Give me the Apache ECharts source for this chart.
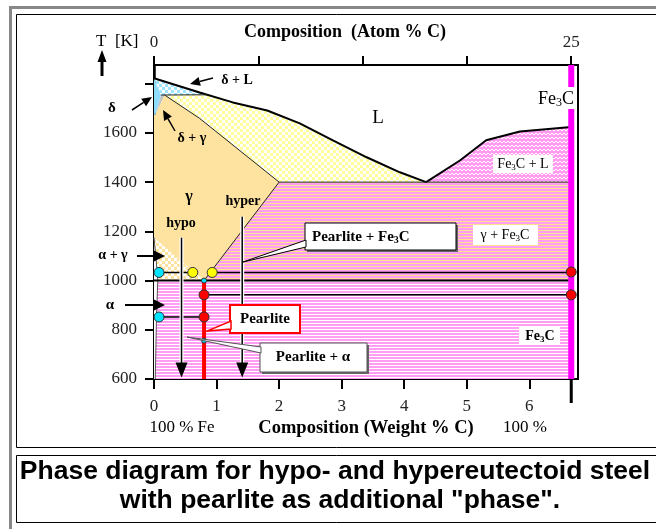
<!DOCTYPE html>
<html><head><meta charset="utf-8">
<script src="https://cdn.jsdelivr.net/npm/echarts@6/dist/echarts.min.js"></script>
<style>html,body{margin:0;padding:0;background:#fff}#c{width:656px;height:529px}</style>
</head><body><div id="c"></div>
<script>
// ---------- data (wt% C, temperature K) ----------
const xTicks = [0,1,2,3,4,5,6];
const atomTicks = [0,6.25,12.5,18.75,25];
const atomLabels = [0,25];
const yTicks = [600,800,1000,1200,1400,1600,1800];
const yLabels = [600,800,1000,1200,1400,1600];

const liquidus = [[0,1822],[0.73,1764],[1.26,1724],[1.81,1691],[2.33,1639],[2.86,1570],[3.40,1501],[3.93,1440],[4.35,1400]];
const cementiteLiquidus = [[4.35,1400],[4.89,1488],[5.31,1570],[5.85,1606],[6.67,1624]];
const solidus = [[0.17,1754],[0.73,1659],[2.0,1400]];
const acm = [[2.0,1400],[0.8,1000]];
const alphaSolvus = [[0,1174],[0.05,1040],[0.06,1000],[0.04,850],[0.02,600]];
const peritectic = [[0.11,1754],[0.85,1755]];
const eutectic = [[2.0,1400],[6.67,1400]];
const eutectoid = [[0,1000],[6.67,1000]];

const regAlphaFe3C = [[0,1000],[6.67,1000],[6.67,600],[0,600]];
const regGammaFe3C = [[0.8,1000],[2.0,1400],[6.67,1400],[6.67,1000]];
const regFe3CL = [[4.35,1400],[4.89,1488],[5.31,1570],[5.85,1606],[6.67,1624],[6.67,1400]];
const regGammaL = [[0.17,1754],[0.85,1755],[1.26,1724],[1.81,1691],[2.33,1639],[2.86,1570],[3.40,1501],[3.93,1440],[4.35,1400],[2.0,1400],[0.73,1659]];
const regGamma = [[0,1674],[0.02,1674],[0.17,1754],[0.73,1659],[2.0,1400],[0.8,1000],[0,1174]];
const regAlphaGamma = [[0,1174],[0.8,1000],[0.06,1000],[0.05,1040]];
const regAlpha = [[0,1174],[0.05,1040],[0.06,1000],[0.04,850],[0.02,600],[0,600]];
const regDeltaL = [[0,1822],[0.85,1755],[0.11,1754]];
const regDeltaGamma = [[0.11,1754],[0.17,1754],[0.02,1674]];
const regDelta = [[0,1822],[0.11,1754],[0.02,1674],[0,1674]];

const fe3cLine = [[6.67,600],[6.67,1876]];
const pearliteLine = [[0.8,1000],[0.8,600]];
const tie1033a = [[0.08,1033],[0.62,1033]];
const tie1033b = [[0.93,1033],[6.67,1033]];
const tie942 = [[0.8,942],[6.67,942]];
const tie852 = [[0.08,852],[0.8,852]];

const cyanDots = [[0.08,1033],[0.08,852]];
const yellowDots = [[0.62,1033],[0.93,1033]];
const redDots = [[0.8,942],[0.8,852],[6.67,1035],[6.67,942]];
const smallCyanDots = [[0.8,1000],[0.8,756]];
const coolingArrows = [[0.44,1174,606],[1.41,1259,606]]; // x, T start, T end

// ---------- patterns ----------
function tile(w,h,fn){const c=document.createElement('canvas');c.width=w;c.height=h;const g=c.getContext('2d');fn(g);return {image:c,repeat:'repeat'};}
const PINK='#ff9ef2', YEL='#ffe38c', GAM='#fde2a0';
const pPinkWhite = tile(1,3,g=>{g.fillStyle='#fff';g.fillRect(0,0,1,3);g.fillStyle=PINK;g.fillRect(0,0,1,2);});
const pPinkYel = tile(1,3,g=>{g.fillStyle=YEL;g.fillRect(0,0,1,3);g.fillStyle=PINK;g.fillRect(0,0,1,2);});
const pYelCheck = tile(6,6,g=>{g.fillStyle='#ffff9c';g.fillRect(0,0,6,6);g.fillStyle='#fff';g.fillRect(0,0,3,3);g.fillRect(3,3,3,3);});
const pGamCheck = tile(6,6,g=>{g.fillStyle=GAM;g.fillRect(0,0,6,6);g.fillStyle='#fff';g.fillRect(0,0,3,3);g.fillRect(3,3,3,3);});
const pBlueCheck = tile(6,6,g=>{g.fillStyle='#9fe4ff';g.fillRect(0,0,6,6);g.fillStyle='#fff';g.fillRect(0,0,3,3);g.fillRect(3,3,3,3);});
const pWavy = tile(8,4,g=>{g.fillStyle='#ff9cf0';g.fillRect(0,0,8,4);g.fillStyle='#fff';[[0,0],[1,1],[2,1],[3,0],[4,0],[5,1],[6,1],[7,0]].forEach(p=>g.fillRect(p[0],p[1]+1,1,1));});

function regionSeries(points, fill, z){
  return {type:'custom', silent:true, clip:true, z:z||1, data:[points[0]],
    renderItem:(params, api)=>({type:'polygon', shape:{points:points.map(p=>api.coord(p))}, style:{fill:fill, stroke:null}})};
}
function lineSeries(data, color, width, z){
  return {type:'line', data:data, silent:true, showSymbol:false, symbol:'none', z:z||3,
    lineStyle:{color:color, width:width}, animation:false};
}
function dotSeries(data, color, size){
  return {type:'scatter', data:data, silent:true, symbolSize:size, z:6,
    itemStyle:{color:color, borderColor:'#333', borderWidth:1, opacity:1}};
}

const chart = echarts.init(document.getElementById('c'), null, {renderer:'canvas'});
const serif = 'Liberation Serif';
const T = (x,y,text,opt)=>Object.assign({type:'text', x:x, y:y, z:100, style:Object.assign({text:text, font:'bold 14px '+serif, fill:'#000', align:'center', verticalAlign:'middle'}, opt||{})});
const richFe = (size,color,weight)=>({a:{fontSize:size,fontFamily:serif,fontWeight:weight,color:color,lineHeight:size+2}, s:{fontSize:Math.round(size*0.65),fontFamily:serif,fontWeight:weight,color:color,verticalAlign:'bottom',lineHeight:size+2}});
function box(x,y,w,h,stroke,lw,shadow){
  const arr=[];
  if(shadow) arr.push({type:'rect', z:99, shape:{x:x+2,y:y+2,width:w,height:h}, style:{fill:'#666'}});
  arr.push({type:'rect', z:99, shape:{x:x,y:y,width:w,height:h}, style:{fill:'#fff', stroke:stroke, lineWidth:lw}});
  return arr;
}
function arrow(x1,y1,x2,y2,hl,hw,lw){
  const a=Math.atan2(y2-y1,x2-x1), bx=x2-hl*Math.cos(a), by=y2-hl*Math.sin(a);
  const px=Math.sin(a)*hw/2, py=-Math.cos(a)*hw/2;
  return [{type:'line', z:100, shape:{x1:x1,y1:y1,x2:bx,y2:by}, style:{stroke:'#000', lineWidth:lw||2}},
          {type:'polygon', z:100, shape:{points:[[x2,y2],[bx+px,by+py],[bx-px,by-py]]}, style:{fill:'#000'}}];
}

const graphics = [].concat(
  [{type:'rect', z:0, shape:{x:9,y:6,width:700,height:3}, style:{fill:'#888'}},
   {type:'rect', z:0, shape:{x:9,y:6,width:3,height:530}, style:{fill:'#888'}},
   {type:'rect', z:0, shape:{x:16.5,y:14.5,width:700,height:433}, style:{fill:null, stroke:'#000', lineWidth:1}},
   {type:'rect', z:0, shape:{x:16.5,y:455.5,width:700,height:67}, style:{fill:null, stroke:'#000', lineWidth:1}}],
  [T(345,32,'Composition  (Atom % C)',{font:'bold 18px '+serif}),
   T(96,42,'T  [K]',{font:'17px '+serif, align:'left'})],
  arrow(102,76,102,50,12,9,3),
  [T(112,108,'δ',{font:'bold 15px '+serif})],
  arrow(132,110,152,97,10,9,1.5),
  [T(237,80,'δ + L',{font:'bold 14px '+serif})],
  arrow(213,78,190,84,10,9,1.5),
  [T(192,138,'δ + γ',{font:'bold 14px '+serif})],
  arrow(175,131,163,110,10,9,1.5),
  [T(113,255,'α + γ',{font:'bold 14px '+serif})],
  arrow(137,256,165,256,12,12,2),
  [T(110,305,'α',{font:'bold 15px '+serif})],
  arrow(125,305,165,305,12,12,2),
  [T(378,118,'L',{font:'19px '+serif}),
   {type:'text', z:100, x:575, y:98, style:{text:'{a|Fe}{s|3}{a|C}', rich:richFe(18,'#000','normal'), align:'right', verticalAlign:'middle', backgroundColor:'#fff', padding:[2,1,0,2]}},
   T(189,197,'γ',{font:'bold 16px '+serif}),
   T(181,223,'hypo',{font:'bold 14px '+serif}),
   T(243,201,'hyper',{font:'bold 14px '+serif})],
  box(493,155,60,18,null,0,false),
  [{type:'text', z:100, x:523, y:164, style:{text:'{a|Fe}{s|3}{a|C + L}', rich:richFe(14,'#000','normal'), align:'center', verticalAlign:'middle'}}],
  box(473,225,65,20,null,0,false),
  [{type:'text', z:100, x:505, y:235, style:{text:'{a|γ + Fe}{s|3}{a|C}', rich:richFe(14,'#000','normal'), align:'center', verticalAlign:'middle'}}],
  box(519,326,41,19,null,0,false),
  [{type:'text', z:100, x:540, y:336, style:{text:'{a|Fe}{s|3}{a|C}', rich:richFe(14,'#ff0000','bold'), align:'center', verticalAlign:'middle'}}],
  // Pearlite + Fe3C callout
  box(305,223,151,27,'#000',1,true),
  [{type:'polygon', z:101, shape:{points:[[306,240],[306,247],[243,262]]}, style:{fill:'#fff', stroke:'#000', lineWidth:1}},
   {type:'text', z:102, x:312, y:237, style:{text:'{a|Pearlite + Fe}{s|3}{a|C}', rich:richFe(15,'#000','bold'), align:'left', verticalAlign:'middle'}}],
  // Pearlite callout
  box(230,305,70,28,'#ff0000',2,false),
  [{type:'polygon', z:101, shape:{points:[[231,321],[231,329],[207,331]]}, style:{fill:'#fff', stroke:'#ff0000', lineWidth:1.5}},
   T(265,319,'Pearlite',{font:'bold 15px '+serif})],
  // Pearlite + alpha callout
  box(260,343,107,29,'#555',1,true),
  [{type:'polygon', z:101, shape:{points:[[261,347],[261,353],[187,337]]}, style:{fill:'#fff', stroke:'#555', lineWidth:1}},
   T(313,357,'Pearlite + α',{font:'bold 15px '+serif})],
  // bottom labels
  [T(182,428,'100 % Fe',{font:'17px '+serif}),
   T(366,428,'Composition (Weight % C)',{font:'bold 18.5px '+serif}),
   T(525,428,'100 %',{font:'17px '+serif})],
  // caption
  [T(335,472,'Phase diagram for hypo- and hypereutectoid steel',{font:'bold 26.5px Liberation Sans'}),
   T(340,501,'with pearlite as additional "phase".',{font:'bold 26.5px Liberation Sans'})]
);

const fmt = v => String(v);
const option = {
  animation:false,
  backgroundColor:'#fff',
  grid:{left:154, top:65, right:78, bottom:150, show:true, borderColor:'#000', borderWidth:2, backgroundColor:'transparent'},
  xAxis:[
    {type:'value', min:0, max:6.778, position:'bottom', splitLine:{show:false},
     axisLine:{lineStyle:{color:'#000', width:2}},
     axisTick:{length:10, lineStyle:{color:'#000', width:2}, customValues:xTicks},
     axisLabel:{customValues:xTicks, formatter:fmt, margin:19, color:'#222', fontSize:17, fontFamily:serif}},
    {type:'value', min:0, max:25*6.778/6.67, position:'top', splitLine:{show:false},
     axisLine:{lineStyle:{color:'#000', width:2}},
     axisTick:{length:9, lineStyle:{color:'#000', width:2}, customValues:atomTicks},
     axisLabel:{customValues:atomLabels, formatter:fmt, margin:14, color:'#222', fontSize:17, fontFamily:serif}}
  ],
  yAxis:[{type:'value', min:600, max:1876, splitLine:{show:false},
     axisLine:{lineStyle:{color:'#000', width:2.5}},
     axisTick:{length:9, lineStyle:{color:'#000', width:2}, customValues:yTicks},
     axisLabel:{customValues:yLabels, formatter:fmt, margin:17, color:'#222', fontSize:17, fontFamily:serif}}],
  graphic: graphics,
  series:[
    regionSeries(regAlphaFe3C, pPinkWhite),
    regionSeries(regGammaFe3C, pPinkYel),
    regionSeries(regFe3CL, pWavy),
    regionSeries(regGammaL, pYelCheck),
    regionSeries(regGamma, GAM),
    regionSeries(regAlphaGamma, pGamCheck),
    regionSeries(regAlpha, '#ffffff'),
    regionSeries(regDeltaL, pBlueCheck),
    regionSeries(regDeltaGamma, '#c4c4c4'),
    regionSeries(regDelta, '#8fdcff'),
    lineSeries(liquidus, '#000', 2),
    lineSeries(cementiteLiquidus, '#000', 2),
    lineSeries(solidus, '#222', 1),
    lineSeries(acm, '#222', 1),
    lineSeries(alphaSolvus, '#555', 1),
    lineSeries(peritectic, '#222', 1),
    lineSeries(eutectic, '#222', 1),
    lineSeries(eutectoid, '#000', 2),
    lineSeries(tie1033a, '#000', 1.5),
    lineSeries(tie1033b, '#000', 1.5),
    lineSeries(tie942, '#000', 1.5),
    lineSeries(tie852, '#000', 1.5),
    lineSeries(fe3cLine, '#ff00ff', 6, 4),
    lineSeries(pearliteLine, '#ff0000', 4, 4),
    {type:'custom', silent:true, clip:false, z:5, data:coolingArrows,
     renderItem:(params, api)=>{
       const a=api.coord([api.value(0),api.value(1)]), b=api.coord([api.value(0),api.value(2)]);
       return {type:'group', children:[
         {type:'line', shape:{x1:a[0],y1:a[1],x2:b[0],y2:b[1]-12}, style:{stroke:'#fff', lineWidth:4}},
         {type:'line', shape:{x1:a[0],y1:a[1],x2:b[0],y2:b[1]-12}, style:{stroke:'#000', lineWidth:1.5}},
         {type:'polygon', shape:{points:[[b[0],b[1]],[b[0]-6,b[1]-15],[b[0]+6,b[1]-15]]}, style:{fill:'#000'}}
       ]};
     }},
    {type:'custom', silent:true, clip:false, z:5, data:[[6.67,600]],
     renderItem:(params, api)=>{const p=api.coord([api.value(0),api.value(1)]);
       return {type:'line', shape:{x1:p[0],y1:p[1],x2:p[0],y2:p[1]+24}, style:{stroke:'#000', lineWidth:3}};}},
    dotSeries(cyanDots, '#00e5ff', 10),
    dotSeries(yellowDots, '#ffff00', 10),
    dotSeries(redDots, '#ff0000', 10),
    dotSeries(smallCyanDots, '#00e5ff', 5)
  ]
};
chart.setOption(option);
</script>
</body></html>
